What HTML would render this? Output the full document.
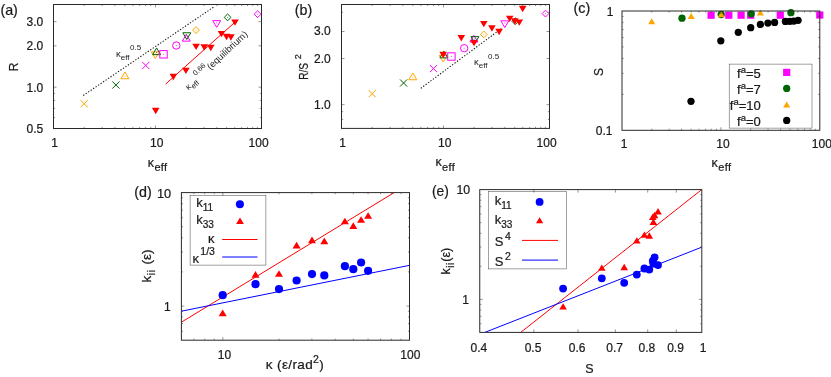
<!DOCTYPE html>
<html><head><meta charset="utf-8"><title>figure</title>
<style>html,body{margin:0;padding:0;background:#fff}svg{display:block;will-change:transform}text{font-family:"Liberation Sans",sans-serif}</style></head>
<body><svg width="831" height="377" viewBox="0 0 831 377">
<rect width="831" height="377" fill="#fff"/>
<text x="0.40" y="14.50" font-size="14.3" text-anchor="start" fill="#1a1a1a" font-family="Liberation Sans, sans-serif" stroke="#1a1a1a" stroke-width="0.22" >(a)</text>
<text x="43.20" y="26.05" font-size="12" text-anchor="end" fill="#1a1a1a" font-family="Liberation Sans, sans-serif" stroke="#1a1a1a" stroke-width="0.22" >3.0</text>
<text x="43.20" y="50.23" font-size="12" text-anchor="end" fill="#1a1a1a" font-family="Liberation Sans, sans-serif" stroke="#1a1a1a" stroke-width="0.22" >2.0</text>
<text x="43.20" y="91.57" font-size="12" text-anchor="end" fill="#1a1a1a" font-family="Liberation Sans, sans-serif" stroke="#1a1a1a" stroke-width="0.22" >1.0</text>
<text x="43.20" y="132.90" font-size="12" text-anchor="end" fill="#1a1a1a" font-family="Liberation Sans, sans-serif" stroke="#1a1a1a" stroke-width="0.22" >0.5</text>
<text x="54.70" y="146.60" font-size="12" text-anchor="middle" fill="#1a1a1a" font-family="Liberation Sans, sans-serif" stroke="#1a1a1a" stroke-width="0.22" >1</text>
<text x="156.65" y="146.60" font-size="12" text-anchor="middle" fill="#1a1a1a" font-family="Liberation Sans, sans-serif" stroke="#1a1a1a" stroke-width="0.22" >10</text>
<text x="258.60" y="146.60" font-size="12" text-anchor="middle" fill="#1a1a1a" font-family="Liberation Sans, sans-serif" stroke="#1a1a1a" stroke-width="0.22" >100</text>
<text transform="translate(17.5 71.3) rotate(-90)" font-size="12" fill="#1a1a1a" font-family="Liberation Sans, sans-serif" stroke="#1a1a1a" stroke-width="0.22">R</text>
<text x="147.70" y="166.60" font-size="12.4" text-anchor="start" fill="#1a1a1a" font-family="Liberation Sans, sans-serif" stroke="#1a1a1a" stroke-width="0.22">κ<tspan font-size="11" dy="4.1" dx="0.5" letter-spacing="0.35">eff</tspan></text>
<path d="M83.2 95.5L214.3 6.6" stroke="#111" stroke-width="1.05" stroke-dasharray="1.3 1.7" fill="none"/>
<path d="M165.7 84.0L235.0 22.2" stroke="#ff0000" stroke-width="1" fill="none"/>
<path d="M80.60 100.10L87.80 107.30M80.60 107.30L87.80 100.10" stroke="#ffa500" stroke-width="1.0" fill="none"/>
<path d="M112.30 81.40L119.50 88.60M112.30 88.60L119.50 81.40" stroke="#006400" stroke-width="1.0" fill="none"/>
<path d="M124.90 72.05L128.90 78.75L120.90 78.75Z" stroke="#ffa500" stroke-width="1.0" fill="none"/><rect x="124.40" y="76.02" width="1" height="1" fill="#ffa500" opacity="0.7"/>
<path d="M142.20 61.90L149.40 69.10M142.20 69.10L149.40 61.90" stroke="#ff00ff" stroke-width="1.0" fill="none"/>
<path d="M155.30 58.55L159.30 51.85L151.30 51.85Z" stroke="#ffa500" stroke-width="1.0" fill="none"/><rect x="154.80" y="53.58" width="1" height="1" fill="#ffa500" opacity="0.7"/>
<path d="M156.60 47.95L160.60 54.65L152.60 54.65Z" stroke="#006400" stroke-width="1.0" fill="none"/><rect x="156.10" y="51.92" width="1" height="1" fill="#006400" opacity="0.7"/>
<rect x="159.80" y="50.60" width="7.40" height="7.40" stroke="#ff00ff" stroke-width="1.0" fill="none"/><rect x="163.00" y="53.80" width="1" height="1" fill="#ff00ff" opacity="0.7"/>
<circle cx="176.30" cy="45.50" r="3.70" stroke="#ff00ff" stroke-width="1.0" fill="none"/><rect x="175.80" y="45.00" width="1" height="1" fill="#ff00ff" opacity="0.7"/>
<path d="M186.30 34.45L190.30 41.15L182.30 41.15Z" stroke="#ff00ff" stroke-width="1.0" fill="none"/><rect x="185.80" y="38.42" width="1" height="1" fill="#ff00ff" opacity="0.7"/>
<path d="M186.80 39.45L190.80 32.75L182.80 32.75Z" stroke="#006400" stroke-width="1.0" fill="none"/><rect x="186.30" y="34.48" width="1" height="1" fill="#006400" opacity="0.7"/>
<path d="M196.00 26.70L199.40 30.10L196.00 33.50L192.60 30.10Z" stroke="#ffa500" stroke-width="1.0" fill="none"/><rect x="195.50" y="29.60" width="1" height="1" fill="#ffa500" opacity="0.7"/>
<path d="M216.70 27.35L220.70 20.65L212.70 20.65Z" stroke="#ff00ff" stroke-width="1.0" fill="none"/><rect x="216.20" y="22.38" width="1" height="1" fill="#ff00ff" opacity="0.7"/>
<path d="M227.60 14.00L231.00 17.40L227.60 20.80L224.20 17.40Z" stroke="#006400" stroke-width="1.0" fill="none"/><rect x="227.10" y="16.90" width="1" height="1" fill="#006400" opacity="0.7"/>
<path d="M257.60 10.80L261.00 14.20L257.60 17.60L254.20 14.20Z" stroke="#ff00ff" stroke-width="1.0" fill="none"/><rect x="257.10" y="13.70" width="1" height="1" fill="#ff00ff" opacity="0.7"/>
<path d="M155.70 114.20L159.50 107.80L151.90 107.80Z" fill="#ff0000"/>
<path d="M173.40 80.20L177.20 73.80L169.60 73.80Z" fill="#ff0000"/>
<path d="M185.90 74.10L189.70 67.70L182.10 67.70Z" fill="#ff0000"/>
<path d="M196.10 50.10L199.90 43.70L192.30 43.70Z" fill="#ff0000"/>
<path d="M204.20 50.70L208.00 44.30L200.40 44.30Z" fill="#ff0000"/>
<path d="M210.80 51.20L214.60 44.80L207.00 44.80Z" fill="#ff0000"/>
<path d="M221.50 37.30L225.30 30.90L217.70 30.90Z" fill="#ff0000"/>
<path d="M226.50 40.20L230.30 33.80L222.70 33.80Z" fill="#ff0000"/>
<path d="M230.90 40.70L234.70 34.30L227.10 34.30Z" fill="#ff0000"/>
<path d="M235.00 25.80L238.80 19.40L231.20 19.40Z" fill="#ff0000"/>
<text x="116" y="56.8" font-size="9.5" fill="#1a1a1a" font-family="Liberation Sans, sans-serif">κ<tspan font-size="8" dy="2.8">eff</tspan><tspan font-size="8" dy="-9.2" dx="-1.6"> 0.5</tspan></text>
<text transform="translate(188.6 90.4) rotate(-43)" font-size="9" fill="#1a1a1a" font-family="Liberation Sans, sans-serif">κ<tspan font-size="7.5" dy="2.6">eff</tspan><tspan font-size="7.5" dy="-8.5"> 0.66</tspan><tspan font-size="9.4" dy="6" dx="-2.2"> (equilibrium)</tspan></text>
<rect x="53.50" y="4.50" width="208.00" height="124.00" fill="none" stroke="#2a2a2a" stroke-width="1"/>
<path d="M155.45 128.50v-3.0M155.45 4.50v3.0M84.19 128.50v-1.6M84.19 4.50v1.6M102.14 128.50v-1.6M102.14 4.50v1.6M114.88 128.50v-1.6M114.88 4.50v1.6M124.76 128.50v-1.6M124.76 4.50v1.6M132.83 128.50v-1.6M132.83 4.50v1.6M139.66 128.50v-1.6M139.66 4.50v1.6M145.57 128.50v-1.6M145.57 4.50v1.6M150.79 128.50v-1.6M150.79 4.50v1.6M186.14 128.50v-1.6M186.14 4.50v1.6M204.09 128.50v-1.6M204.09 4.50v1.6M216.83 128.50v-1.6M216.83 4.50v1.6M226.71 128.50v-1.6M226.71 4.50v1.6M234.78 128.50v-1.6M234.78 4.50v1.6M241.61 128.50v-1.6M241.61 4.50v1.6M247.52 128.50v-1.6M247.52 4.50v1.6M252.74 128.50v-1.6M252.74 4.50v1.6M257.40 128.50v-1.6M257.40 4.50v1.6" stroke="#2a2a2a" stroke-width="0.5" fill="none"/>
<path d="M53.50 21.65h3.0M261.50 21.65h-3.0M53.50 45.83h3.0M261.50 45.83h-3.0M53.50 87.17h3.0M261.50 87.17h-3.0M53.50 117.63h1.6M261.50 117.63h-1.6M53.50 108.44h1.6M261.50 108.44h-1.6M53.50 100.47h1.6M261.50 100.47h-1.6M53.50 93.45h1.6M261.50 93.45h-1.6" stroke="#2a2a2a" stroke-width="0.5" fill="none"/>
<text x="294.80" y="14.50" font-size="14.3" text-anchor="start" fill="#1a1a1a" font-family="Liberation Sans, sans-serif" stroke="#1a1a1a" stroke-width="0.22" >(b)</text>
<text x="330.70" y="35.30" font-size="12" text-anchor="end" fill="#1a1a1a" font-family="Liberation Sans, sans-serif" stroke="#1a1a1a" stroke-width="0.22" >3.0</text>
<text x="330.70" y="62.70" font-size="12" text-anchor="end" fill="#1a1a1a" font-family="Liberation Sans, sans-serif" stroke="#1a1a1a" stroke-width="0.22" >2.0</text>
<text x="330.70" y="109.15" font-size="12" text-anchor="end" fill="#1a1a1a" font-family="Liberation Sans, sans-serif" stroke="#1a1a1a" stroke-width="0.22" >1.0</text>
<text x="342.70" y="146.90" font-size="12" text-anchor="middle" fill="#1a1a1a" font-family="Liberation Sans, sans-serif" stroke="#1a1a1a" stroke-width="0.22" >1</text>
<text x="444.65" y="146.90" font-size="12" text-anchor="middle" fill="#1a1a1a" font-family="Liberation Sans, sans-serif" stroke="#1a1a1a" stroke-width="0.22" >10</text>
<text x="546.60" y="146.90" font-size="12" text-anchor="middle" fill="#1a1a1a" font-family="Liberation Sans, sans-serif" stroke="#1a1a1a" stroke-width="0.22" >100</text>
<text transform="translate(307.7 79.8) rotate(-90)" font-size="12.5" textLength="16.9" lengthAdjust="spacingAndGlyphs" fill="#1a1a1a" font-family="Liberation Sans, sans-serif" stroke="#1a1a1a" stroke-width="0.22">R/S</text>
<text transform="translate(300.6 59.3) rotate(-90)" font-size="9" fill="#1a1a1a" font-family="Liberation Sans, sans-serif" stroke="#1a1a1a" stroke-width="0.22">2</text>
<text x="435.40" y="166.40" font-size="12.4" text-anchor="start" fill="#1a1a1a" font-family="Liberation Sans, sans-serif" stroke="#1a1a1a" stroke-width="0.22">κ<tspan font-size="11" dy="4.1" dx="0.5" letter-spacing="0.35">eff</tspan></text>
<path d="M420.8 88.3L502.2 28.0" stroke="#111" stroke-width="1.05" stroke-dasharray="1.3 1.7" fill="none"/>
<path d="M368.60 90.10L375.80 97.30M368.60 97.30L375.80 90.10" stroke="#ffa500" stroke-width="1.0" fill="none"/>
<path d="M400.00 79.40L407.20 86.60M400.00 86.60L407.20 79.40" stroke="#006400" stroke-width="1.0" fill="none"/>
<path d="M412.80 73.05L416.80 79.75L408.80 79.75Z" stroke="#ffa500" stroke-width="1.0" fill="none"/><rect x="412.30" y="77.02" width="1" height="1" fill="#ffa500" opacity="0.7"/>
<path d="M429.90 65.00L437.10 72.20M429.90 72.20L437.10 65.00" stroke="#ff00ff" stroke-width="1.0" fill="none"/>
<path d="M443.20 62.05L447.20 55.35L439.20 55.35Z" stroke="#ffa500" stroke-width="1.0" fill="none"/><rect x="442.70" y="57.08" width="1" height="1" fill="#ffa500" opacity="0.7"/>
<path d="M443.90 51.15L447.90 57.85L439.90 57.85Z" stroke="#006400" stroke-width="1.0" fill="none"/><rect x="443.40" y="55.12" width="1" height="1" fill="#006400" opacity="0.7"/>
<rect x="447.70" y="52.80" width="7.40" height="7.40" stroke="#ff00ff" stroke-width="1.0" fill="none"/><rect x="450.90" y="56.00" width="1" height="1" fill="#ff00ff" opacity="0.7"/>
<circle cx="464.20" cy="48.20" r="3.70" stroke="#ff00ff" stroke-width="1.0" fill="none"/><rect x="463.70" y="47.70" width="1" height="1" fill="#ff00ff" opacity="0.7"/>
<path d="M473.90 35.35L477.90 42.05L469.90 42.05Z" stroke="#ff00ff" stroke-width="1.0" fill="none"/><rect x="473.40" y="39.32" width="1" height="1" fill="#ff00ff" opacity="0.7"/>
<path d="M474.90 43.35L478.90 36.65L470.90 36.65Z" stroke="#006400" stroke-width="1.0" fill="none"/><rect x="474.40" y="38.38" width="1" height="1" fill="#006400" opacity="0.7"/>
<path d="M483.80 31.00L487.20 34.40L483.80 37.80L480.40 34.40Z" stroke="#ffa500" stroke-width="1.0" fill="none"/><rect x="483.30" y="33.90" width="1" height="1" fill="#ffa500" opacity="0.7"/>
<path d="M504.80 27.55L508.80 20.85L500.80 20.85Z" stroke="#ff00ff" stroke-width="1.0" fill="none"/><rect x="504.30" y="22.58" width="1" height="1" fill="#ff00ff" opacity="0.7"/>
<path d="M515.20 17.80L518.60 21.20L515.20 24.60L511.80 21.20Z" stroke="#006400" stroke-width="1.0" fill="none"/><rect x="514.70" y="20.70" width="1" height="1" fill="#006400" opacity="0.7"/>
<path d="M545.50 10.20L548.90 13.60L545.50 17.00L542.10 13.60Z" stroke="#ff00ff" stroke-width="1.0" fill="none"/><rect x="545.00" y="13.10" width="1" height="1" fill="#ff00ff" opacity="0.7"/>
<path d="M443.20 58.20L447.00 51.80L439.40 51.80Z" fill="#ff0000"/>
<path d="M461.30 41.50L465.10 35.10L457.50 35.10Z" fill="#ff0000"/>
<path d="M474.00 46.30L477.80 39.90L470.20 39.90Z" fill="#ff0000"/>
<path d="M483.80 27.30L487.60 20.90L480.00 20.90Z" fill="#ff0000"/>
<path d="M491.90 31.70L495.70 25.30L488.10 25.30Z" fill="#ff0000"/>
<path d="M499.10 35.20L502.90 28.80L495.30 28.80Z" fill="#ff0000"/>
<path d="M509.70 22.10L513.50 15.70L505.90 15.70Z" fill="#ff0000"/>
<path d="M514.80 24.70L518.60 18.30L511.00 18.30Z" fill="#ff0000"/>
<path d="M519.30 25.80L523.10 19.40L515.50 19.40Z" fill="#ff0000"/>
<path d="M522.70 12.20L526.50 5.80L518.90 5.80Z" fill="#ff0000"/>
<text x="474" y="65.3" font-size="9.5" fill="#1a1a1a" font-family="Liberation Sans, sans-serif">κ<tspan font-size="8" dy="2.8">eff</tspan><tspan font-size="8" dy="-9.2" dx="-1.6"> 0.5</tspan></text>
<rect x="341.50" y="4.50" width="208.00" height="123.90" fill="none" stroke="#2a2a2a" stroke-width="1"/>
<path d="M443.45 128.40v-3.0M443.45 4.50v3.0M372.19 128.40v-1.6M372.19 4.50v1.6M390.14 128.40v-1.6M390.14 4.50v1.6M402.88 128.40v-1.6M402.88 4.50v1.6M412.76 128.40v-1.6M412.76 4.50v1.6M420.83 128.40v-1.6M420.83 4.50v1.6M427.66 128.40v-1.6M427.66 4.50v1.6M433.57 128.40v-1.6M433.57 4.50v1.6M438.79 128.40v-1.6M438.79 4.50v1.6M474.14 128.40v-1.6M474.14 4.50v1.6M492.09 128.40v-1.6M492.09 4.50v1.6M504.83 128.40v-1.6M504.83 4.50v1.6M514.71 128.40v-1.6M514.71 4.50v1.6M522.78 128.40v-1.6M522.78 4.50v1.6M529.61 128.40v-1.6M529.61 4.50v1.6M535.52 128.40v-1.6M535.52 4.50v1.6M540.74 128.40v-1.6M540.74 4.50v1.6M545.40 128.40v-1.6M545.40 4.50v1.6" stroke="#2a2a2a" stroke-width="0.5" fill="none"/>
<path d="M341.50 31.50h3.0M549.50 31.50h-3.0M341.50 58.50h3.0M549.50 58.50h-3.0M341.50 104.65h3.0M549.50 104.65h-3.0M341.50 119.51h1.6M549.50 119.51h-1.6M341.50 111.67h1.6M549.50 111.67h-1.6M341.50 12.34h1.6M549.50 12.34h-1.6" stroke="#2a2a2a" stroke-width="0.5" fill="none"/>
<text x="573.60" y="13.40" font-size="14.3" text-anchor="start" fill="#1a1a1a" font-family="Liberation Sans, sans-serif" stroke="#1a1a1a" stroke-width="0.22" >(c)</text>
<text x="613.40" y="15.90" font-size="12" text-anchor="end" fill="#1a1a1a" font-family="Liberation Sans, sans-serif" stroke="#1a1a1a" stroke-width="0.22" >1</text>
<text x="612.50" y="134.90" font-size="12" text-anchor="end" fill="#1a1a1a" font-family="Liberation Sans, sans-serif" stroke="#1a1a1a" stroke-width="0.22" >0.1</text>
<text x="624.00" y="148.40" font-size="12" text-anchor="middle" fill="#1a1a1a" font-family="Liberation Sans, sans-serif" stroke="#1a1a1a" stroke-width="0.22" >1</text>
<text x="722.90" y="148.40" font-size="12" text-anchor="middle" fill="#1a1a1a" font-family="Liberation Sans, sans-serif" stroke="#1a1a1a" stroke-width="0.22" >10</text>
<text x="821.80" y="148.40" font-size="12" text-anchor="middle" fill="#1a1a1a" font-family="Liberation Sans, sans-serif" stroke="#1a1a1a" stroke-width="0.22" >100</text>
<text transform="translate(603.3 76) rotate(-90)" font-size="12" fill="#1a1a1a" font-family="Liberation Sans, sans-serif" stroke="#1a1a1a" stroke-width="0.22">S</text>
<text x="711.60" y="166.60" font-size="12.4" text-anchor="start" fill="#1a1a1a" font-family="Liberation Sans, sans-serif" stroke="#1a1a1a" stroke-width="0.22">κ<tspan font-size="11" dy="4.1" dx="0.5" letter-spacing="0.35">eff</tspan></text>
<rect x="707.50" y="11.60" width="7.20" height="7.20" fill="#ff00ff"/>
<rect x="725.20" y="11.60" width="7.20" height="7.20" fill="#ff00ff"/>
<rect x="737.50" y="11.60" width="7.20" height="7.20" fill="#ff00ff"/>
<rect x="747.10" y="11.60" width="7.20" height="7.20" fill="#ff00ff"/>
<rect x="776.70" y="11.60" width="7.20" height="7.20" fill="#ff00ff"/>
<rect x="816.20" y="11.40" width="7.20" height="7.20" fill="#ff00ff"/>
<circle cx="682.00" cy="18.20" r="3.63" fill="#006400"/>
<circle cx="721.20" cy="14.50" r="3.63" fill="#006400"/>
<circle cx="751.20" cy="13.80" r="3.63" fill="#006400"/>
<circle cx="790.90" cy="12.70" r="3.63" fill="#006400"/>
<path d="M651.70 18.22L655.23 24.18L648.17 24.18Z" fill="#ffa500"/>
<path d="M691.20 12.92L694.73 18.88L687.67 18.88Z" fill="#ffa500"/>
<path d="M721.20 11.32L724.73 17.28L717.67 17.28Z" fill="#ffa500"/>
<path d="M760.40 9.52L763.93 15.48L756.87 15.48Z" fill="#ffa500"/>
<circle cx="691.00" cy="101.30" r="3.63" fill="#000"/>
<circle cx="720.80" cy="40.80" r="3.63" fill="#000"/>
<circle cx="738.30" cy="32.30" r="3.63" fill="#000"/>
<circle cx="750.70" cy="27.70" r="3.63" fill="#000"/>
<circle cx="760.40" cy="24.40" r="3.63" fill="#000"/>
<circle cx="767.90" cy="23.10" r="3.63" fill="#000"/>
<circle cx="774.60" cy="22.40" r="3.63" fill="#000"/>
<circle cx="785.40" cy="21.40" r="3.63" fill="#000"/>
<circle cx="789.80" cy="21.30" r="3.63" fill="#000"/>
<circle cx="793.80" cy="21.10" r="3.63" fill="#000"/>
<circle cx="798.10" cy="20.30" r="3.63" fill="#000"/>
<rect x="729.2" y="64.1" width="82.8" height="64.0" fill="#fff" stroke="#444" stroke-width="0.5"/>
<text x="760.8" y="77.70" font-size="13" text-anchor="end" fill="#1a1a1a" font-family="Liberation Sans, sans-serif" stroke="#1a1a1a" stroke-width="0.22">f<tspan font-size="9.5" dy="-5">a</tspan><tspan dy="5">=5</tspan></text>
<rect x="783.10" y="68.80" width="7.20" height="7.20" fill="#ff00ff"/>
<text x="760.8" y="93.70" font-size="13" text-anchor="end" fill="#1a1a1a" font-family="Liberation Sans, sans-serif" stroke="#1a1a1a" stroke-width="0.22">f<tspan font-size="9.5" dy="-5">a</tspan><tspan dy="5">=7</tspan></text>
<circle cx="786.70" cy="88.40" r="3.63" fill="#006400"/>
<text x="760.8" y="109.70" font-size="13" text-anchor="end" fill="#1a1a1a" font-family="Liberation Sans, sans-serif" stroke="#1a1a1a" stroke-width="0.22">f<tspan font-size="9.5" dy="-5">a</tspan><tspan dy="5">=10</tspan></text>
<path d="M786.70 101.42L790.23 107.38L783.17 107.38Z" fill="#ffa500"/>
<text x="760.8" y="125.70" font-size="13" text-anchor="end" fill="#1a1a1a" font-family="Liberation Sans, sans-serif" stroke="#1a1a1a" stroke-width="0.22">f<tspan font-size="9.5" dy="-5">a</tspan><tspan dy="5">=0</tspan></text>
<circle cx="786.70" cy="120.40" r="3.63" fill="#000"/>
<rect x="622.00" y="11.00" width="197.80" height="119.30" fill="none" stroke="#2a2a2a" stroke-width="1"/>
<path d="M720.90 130.30v-3.0M720.90 11.00v3.0M651.77 130.30v-1.6M651.77 11.00v1.6M669.19 130.30v-1.6M669.19 11.00v1.6M681.54 130.30v-1.6M681.54 11.00v1.6M691.13 130.30v-1.6M691.13 11.00v1.6M698.96 130.30v-1.6M698.96 11.00v1.6M705.58 130.30v-1.6M705.58 11.00v1.6M711.32 130.30v-1.6M711.32 11.00v1.6M716.37 130.30v-1.6M716.37 11.00v1.6M750.67 130.30v-1.6M750.67 11.00v1.6M768.09 130.30v-1.6M768.09 11.00v1.6M780.44 130.30v-1.6M780.44 11.00v1.6M790.03 130.30v-1.6M790.03 11.00v1.6M797.86 130.30v-1.6M797.86 11.00v1.6M804.48 130.30v-1.6M804.48 11.00v1.6M810.22 130.30v-1.6M810.22 11.00v1.6M815.27 130.30v-1.6M815.27 11.00v1.6" stroke="#2a2a2a" stroke-width="0.5" fill="none"/>
<path d="M622.00 94.39h1.6M819.80 94.39h-1.6M622.00 73.38h1.6M819.80 73.38h-1.6M622.00 58.47h1.6M819.80 58.47h-1.6M622.00 46.91h1.6M819.80 46.91h-1.6M622.00 37.47h1.6M819.80 37.47h-1.6M622.00 29.48h1.6M819.80 29.48h-1.6M622.00 22.56h1.6M819.80 22.56h-1.6M622.00 16.46h1.6M819.80 16.46h-1.6" stroke="#2a2a2a" stroke-width="0.5" fill="none"/>
<text x="134.30" y="197.00" font-size="14.3" text-anchor="start" fill="#1a1a1a" font-family="Liberation Sans, sans-serif" stroke="#1a1a1a" stroke-width="0.22" >(d)</text>
<text x="171.20" y="197.80" font-size="12.8" text-anchor="end" fill="#1a1a1a" font-family="Liberation Sans, sans-serif" stroke="#1a1a1a" stroke-width="0.22" >10</text>
<text x="170.80" y="311.05" font-size="12" text-anchor="end" fill="#1a1a1a" font-family="Liberation Sans, sans-serif" stroke="#1a1a1a" stroke-width="0.22" >1</text>
<text x="224.42" y="358.60" font-size="12" text-anchor="middle" fill="#1a1a1a" font-family="Liberation Sans, sans-serif" stroke="#1a1a1a" stroke-width="0.22" >10</text>
<text x="410.30" y="359.20" font-size="12" text-anchor="middle" fill="#1a1a1a" font-family="Liberation Sans, sans-serif" stroke="#1a1a1a" stroke-width="0.22" >100</text>
<text x="265.8" y="368.7" font-size="13.5" textLength="58.0" lengthAdjust="spacing" fill="#1a1a1a" font-family="Liberation Sans, sans-serif" stroke="#1a1a1a" stroke-width="0.22">κ (ε/rad<tspan font-size="10.5" dy="-5.5">2</tspan><tspan dy="5.5">)</tspan></text>
<text transform="translate(150.6 282.6) rotate(-90)" font-size="13.5" fill="#1a1a1a" font-family="Liberation Sans, sans-serif" stroke="#1a1a1a" stroke-width="0.22">k<tspan font-size="10.5" dy="4" dx="0.6" letter-spacing="0.6">ii</tspan><tspan dy="-4" dx="1.2"> (ε)</tspan></text>
<clipPath id="cd"><rect x="181.4" y="192.6" width="228.1" height="147.6"/></clipPath>
<g clip-path="url(#cd)"><path d="M181.4 322.2L409.7 183.14" stroke="#ff0000" stroke-width="1" fill="none"/>
<path d="M181.4 311.2L409.7 265.3" stroke="#0000ff" stroke-width="1" fill="none"/></g>
<circle cx="222.70" cy="295.20" r="4.09" fill="#0000ff"/>
<circle cx="255.50" cy="284.20" r="4.09" fill="#0000ff"/>
<circle cx="279.00" cy="289.10" r="4.09" fill="#0000ff"/>
<circle cx="296.60" cy="280.50" r="4.09" fill="#0000ff"/>
<circle cx="312.00" cy="274.10" r="4.09" fill="#0000ff"/>
<circle cx="324.30" cy="275.40" r="4.09" fill="#0000ff"/>
<circle cx="344.90" cy="266.20" r="4.09" fill="#0000ff"/>
<circle cx="353.30" cy="269.20" r="4.09" fill="#0000ff"/>
<circle cx="361.10" cy="262.50" r="4.09" fill="#0000ff"/>
<circle cx="368.10" cy="270.80" r="4.09" fill="#0000ff"/>
<path d="M222.70 309.44L226.69 316.16L218.71 316.16Z" fill="#ff0000"/>
<path d="M255.50 270.94L259.49 277.66L251.51 277.66Z" fill="#ff0000"/>
<path d="M279.00 270.14L282.99 276.86L275.01 276.86Z" fill="#ff0000"/>
<path d="M296.60 241.74L300.59 248.46L292.61 248.46Z" fill="#ff0000"/>
<path d="M312.00 236.54L315.99 243.26L308.01 243.26Z" fill="#ff0000"/>
<path d="M324.30 237.54L328.29 244.26L320.31 244.26Z" fill="#ff0000"/>
<path d="M344.90 217.64L348.89 224.36L340.91 224.36Z" fill="#ff0000"/>
<path d="M353.30 222.24L357.29 228.96L349.31 228.96Z" fill="#ff0000"/>
<path d="M361.10 216.14L365.09 222.86L357.11 222.86Z" fill="#ff0000"/>
<path d="M368.10 212.14L372.09 218.86L364.11 218.86Z" fill="#ff0000"/>
<rect x="190.1" y="195.5" width="75.8" height="69.6" fill="#fff" stroke="#444" stroke-width="0.5"/>
<text x="196.2" y="207.2" font-size="13" fill="#1a1a1a" font-family="Liberation Sans, sans-serif" stroke="#1a1a1a" stroke-width="0.22">k<tspan font-size="10" dy="4">11</tspan></text>
<text x="196.2" y="224.1" font-size="13" fill="#1a1a1a" font-family="Liberation Sans, sans-serif" stroke="#1a1a1a" stroke-width="0.22">k<tspan font-size="10" dy="4">33</tspan></text>
<text x="214.6" y="243.0" font-size="13" text-anchor="end" fill="#1a1a1a" font-family="Liberation Sans, sans-serif" stroke="#1a1a1a" stroke-width="0.22">κ</text>
<text x="192.5" y="262.6" font-size="13" fill="#1a1a1a" font-family="Liberation Sans, sans-serif" stroke="#1a1a1a" stroke-width="0.22">κ<tspan font-size="10.5" dy="-7.2" dx="1.3">1/3</tspan></text>
<circle cx="239.90" cy="204.30" r="4.02" fill="#0000ff"/>
<path d="M240.00 217.40L243.91 224.00L236.09 224.00Z" fill="#ff0000"/>
<path d="M222.2 239.5H257.5" stroke="#ff0000" stroke-width="1"/>
<path d="M222.2 257.0H257.5" stroke="#0000ff" stroke-width="1"/>
<rect x="181.40" y="192.60" width="228.10" height="147.60" fill="none" stroke="#2a2a2a" stroke-width="1"/>
<path d="M222.82 340.20v-3.0M222.82 192.60v3.0M193.90 340.20v-1.6M193.90 192.60v1.6M204.72 340.20v-1.6M204.72 192.60v1.6M214.27 340.20v-1.6M214.27 192.60v1.6M279.01 340.20v-1.6M279.01 192.60v1.6M311.89 340.20v-1.6M311.89 192.60v1.6M335.21 340.20v-1.6M335.21 192.60v1.6M353.30 340.20v-1.6M353.30 192.60v1.6M368.08 340.20v-1.6M368.08 192.60v1.6M380.58 340.20v-1.6M380.58 192.60v1.6M391.41 340.20v-1.6M391.41 192.60v1.6M400.96 340.20v-1.6M400.96 192.60v1.6" stroke="#2a2a2a" stroke-width="0.5" fill="none"/>
<path d="M181.40 306.05h3.0M409.50 306.05h-3.0M181.40 331.22h1.6M409.50 331.22h-1.6M181.40 323.62h1.6M409.50 323.62h-1.6M181.40 317.04h1.6M409.50 317.04h-1.6M181.40 311.24h1.6M409.50 311.24h-1.6M181.40 271.90h1.6M409.50 271.90h-1.6M181.40 251.92h1.6M409.50 251.92h-1.6M181.40 237.75h1.6M409.50 237.75h-1.6M181.40 226.75h1.6M409.50 226.75h-1.6M181.40 217.77h1.6M409.50 217.77h-1.6M181.40 210.17h1.6M409.50 210.17h-1.6M181.40 203.59h1.6M409.50 203.59h-1.6M181.40 197.79h1.6M409.50 197.79h-1.6" stroke="#2a2a2a" stroke-width="0.5" fill="none"/>
<text x="432.00" y="195.80" font-size="13.8" text-anchor="start" fill="#1a1a1a" font-family="Liberation Sans, sans-serif" stroke="#1a1a1a" stroke-width="0.22" >(e)</text>
<text x="470.15" y="193.80" font-size="12.3" text-anchor="end" fill="#1a1a1a" font-family="Liberation Sans, sans-serif" stroke="#1a1a1a" stroke-width="0.22" >10</text>
<text x="468.95" y="304.36" font-size="12" text-anchor="end" fill="#1a1a1a" font-family="Liberation Sans, sans-serif" stroke="#1a1a1a" stroke-width="0.22" >1</text>
<text x="478.95" y="351.60" font-size="12" text-anchor="middle" fill="#1a1a1a" font-family="Liberation Sans, sans-serif" stroke="#1a1a1a" stroke-width="0.22" >0.4</text>
<text x="533.03" y="351.60" font-size="12" text-anchor="middle" fill="#1a1a1a" font-family="Liberation Sans, sans-serif" stroke="#1a1a1a" stroke-width="0.22" >0.5</text>
<text x="577.21" y="351.60" font-size="12" text-anchor="middle" fill="#1a1a1a" font-family="Liberation Sans, sans-serif" stroke="#1a1a1a" stroke-width="0.22" >0.6</text>
<text x="614.56" y="351.60" font-size="12" text-anchor="middle" fill="#1a1a1a" font-family="Liberation Sans, sans-serif" stroke="#1a1a1a" stroke-width="0.22" >0.7</text>
<text x="646.92" y="351.60" font-size="12" text-anchor="middle" fill="#1a1a1a" font-family="Liberation Sans, sans-serif" stroke="#1a1a1a" stroke-width="0.22" >0.8</text>
<text x="675.47" y="351.60" font-size="12" text-anchor="middle" fill="#1a1a1a" font-family="Liberation Sans, sans-serif" stroke="#1a1a1a" stroke-width="0.22" >0.9</text>
<text x="703.20" y="351.60" font-size="12" text-anchor="middle" fill="#1a1a1a" font-family="Liberation Sans, sans-serif" stroke="#1a1a1a" stroke-width="0.22" >1</text>
<text x="589.50" y="373.00" font-size="12.5" text-anchor="middle" fill="#1a1a1a" font-family="Liberation Sans, sans-serif" stroke="#1a1a1a" stroke-width="0.22" >S</text>
<text transform="translate(449.8 274.4) rotate(-90)" font-size="12.5" fill="#1a1a1a" font-family="Liberation Sans, sans-serif" stroke="#1a1a1a" stroke-width="0.22">k<tspan font-size="10" dy="4" dx="0.4" letter-spacing="0.5">ii</tspan><tspan dy="-4" dx="0.6">(ε)</tspan></text>
<clipPath id="ce"><rect x="479.75" y="189.6" width="222.04999999999995" height="142.79999999999998"/></clipPath>
<g clip-path="url(#ce)"><path d="M520.7 332.4L701.7 189.6" stroke="#ff0000" stroke-width="1" fill="none"/>
<path d="M484.8 332.4L701.7 247.2" stroke="#0000ff" stroke-width="1" fill="none"/></g>
<circle cx="563.10" cy="288.60" r="3.90" fill="#0000ff"/>
<circle cx="601.80" cy="278.30" r="3.90" fill="#0000ff"/>
<circle cx="624.20" cy="282.80" r="3.90" fill="#0000ff"/>
<circle cx="636.80" cy="274.60" r="3.90" fill="#0000ff"/>
<circle cx="644.40" cy="268.50" r="3.90" fill="#0000ff"/>
<circle cx="649.30" cy="269.60" r="3.90" fill="#0000ff"/>
<circle cx="652.80" cy="261.00" r="3.90" fill="#0000ff"/>
<circle cx="653.40" cy="263.70" r="3.90" fill="#0000ff"/>
<circle cx="654.60" cy="257.30" r="3.90" fill="#0000ff"/>
<circle cx="658.00" cy="265.10" r="3.90" fill="#0000ff"/>
<path d="M563.10 303.20L566.90 309.60L559.30 309.60Z" fill="#ff0000"/>
<path d="M601.80 264.40L605.60 270.80L598.00 270.80Z" fill="#ff0000"/>
<path d="M624.20 263.80L628.00 270.20L620.40 270.20Z" fill="#ff0000"/>
<path d="M636.80 237.20L640.60 243.60L633.00 243.60Z" fill="#ff0000"/>
<path d="M644.40 231.40L648.20 237.80L640.60 237.80Z" fill="#ff0000"/>
<path d="M649.30 232.30L653.10 238.70L645.50 238.70Z" fill="#ff0000"/>
<path d="M652.80 213.60L656.60 220.00L649.00 220.00Z" fill="#ff0000"/>
<path d="M653.40 218.60L657.20 225.00L649.60 225.00Z" fill="#ff0000"/>
<path d="M654.60 211.80L658.40 218.20L650.80 218.20Z" fill="#ff0000"/>
<path d="M658.00 208.00L661.80 214.40L654.20 214.40Z" fill="#ff0000"/>
<rect x="488.6" y="191.5" width="77.8" height="77.4" fill="#fff" stroke="#444" stroke-width="0.5"/>
<text x="494.8" y="205.2" font-size="13" fill="#1a1a1a" font-family="Liberation Sans, sans-serif" stroke="#1a1a1a" stroke-width="0.22">k<tspan font-size="10" dy="4">11</tspan></text>
<text x="494.8" y="224.1" font-size="13" fill="#1a1a1a" font-family="Liberation Sans, sans-serif" stroke="#1a1a1a" stroke-width="0.22">k<tspan font-size="10" dy="4">33</tspan></text>
<text x="494.8" y="246.0" font-size="13" fill="#1a1a1a" font-family="Liberation Sans, sans-serif" stroke="#1a1a1a" stroke-width="0.22">S<tspan font-size="10.5" dx="1.6" dy="-5.6">4</tspan></text>
<text x="494.8" y="265.6" font-size="13" fill="#1a1a1a" font-family="Liberation Sans, sans-serif" stroke="#1a1a1a" stroke-width="0.22">S<tspan font-size="10.5" dx="1.6" dy="-5.6">2</tspan></text>
<circle cx="539.60" cy="201.90" r="3.90" fill="#0000ff"/>
<path d="M539.60 217.26L543.21 223.34L535.99 223.34Z" fill="#ff0000"/>
<path d="M522 240.4H558" stroke="#ff0000" stroke-width="1"/>
<path d="M522 260.1H558" stroke="#0000ff" stroke-width="1"/>
<rect x="479.75" y="189.60" width="222.05" height="142.80" fill="none" stroke="#2a2a2a" stroke-width="1"/>
<path d="M533.83 332.40v-3.0M533.83 189.60v3.0M578.01 332.40v-3.0M578.01 189.60v3.0M615.36 332.40v-3.0M615.36 189.60v3.0M647.72 332.40v-3.0M647.72 189.60v3.0M676.27 332.40v-3.0M676.27 189.60v3.0" stroke="#2a2a2a" stroke-width="0.5" fill="none"/>
<path d="M479.75 299.36h3.0M701.80 299.36h-3.0M479.75 323.71h1.6M701.80 323.71h-1.6M479.75 316.36h1.6M701.80 316.36h-1.6M479.75 310.00h1.6M701.80 310.00h-1.6M479.75 304.38h1.6M701.80 304.38h-1.6M479.75 266.32h1.6M701.80 266.32h-1.6M479.75 246.99h1.6M701.80 246.99h-1.6M479.75 233.28h1.6M701.80 233.28h-1.6M479.75 222.64h1.6M701.80 222.64h-1.6M479.75 213.95h1.6M701.80 213.95h-1.6M479.75 206.60h1.6M701.80 206.60h-1.6M479.75 200.24h1.6M701.80 200.24h-1.6M479.75 194.62h1.6M701.80 194.62h-1.6" stroke="#2a2a2a" stroke-width="0.5" fill="none"/>
</svg></body></html>
